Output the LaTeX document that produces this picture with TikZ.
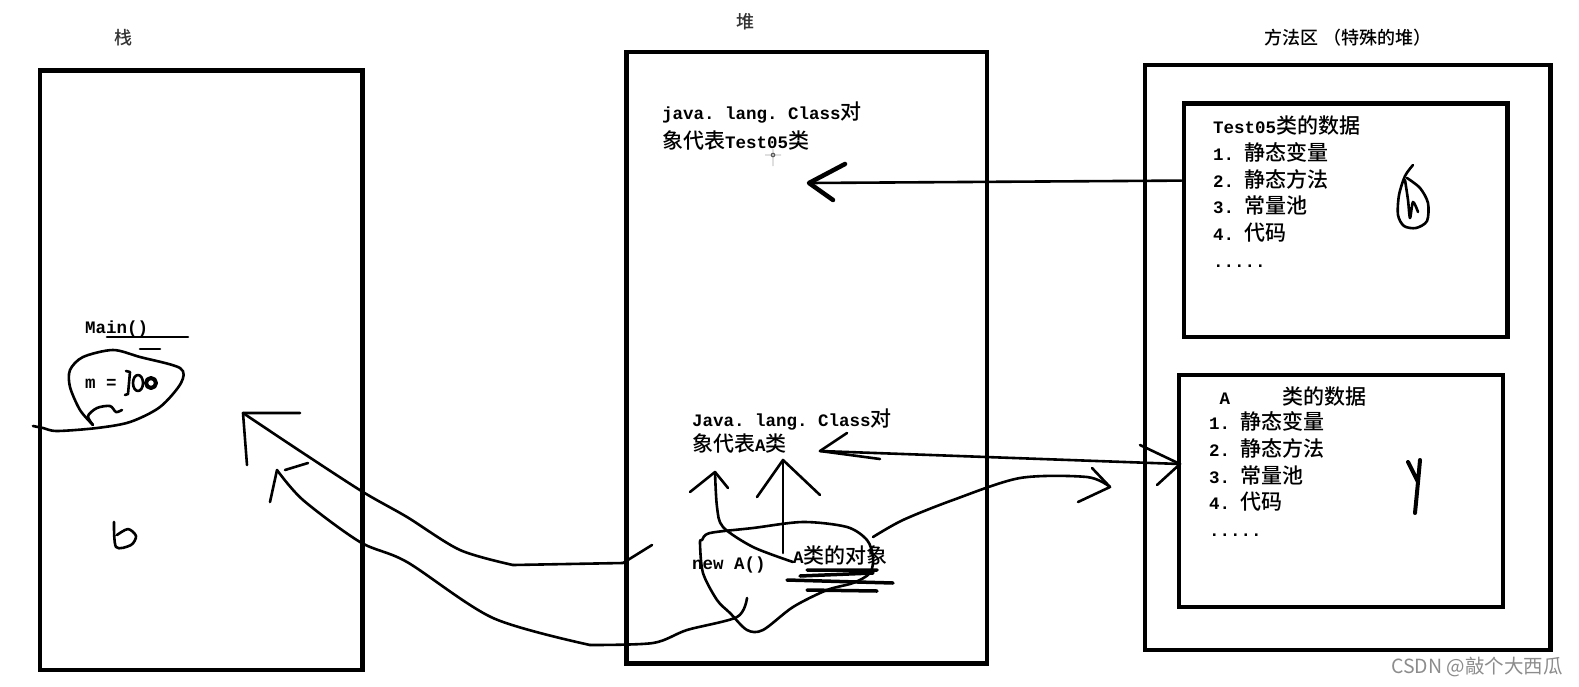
\documentclass[tikz,border=0pt]{standalone}
\usepackage{fontspec}
\setmainfont{Liberation Mono}
\newfontfamily\cjk{Noto Sans CJK SC}[Scale=1.2,UprightFont=* Medium]
\newfontfamily\wmfont{Noto Sans CJK SC}
\newcommand\zh[1]{{\cjk\mdseries #1}}
\newcommand\moredots{.....}
\frenchspacing
\tikzset{
  box/.style={draw,line width=4.6pt,inner sep=0pt,anchor=north west},
  pen/.style={line width=2.6pt,line cap=round,line join=round},
  txt/.style={anchor=west,inner sep=0pt,text height=16pt,text depth=3pt,font=\fontsize{17.5}{21}\selectfont\bfseries},
  lbl/.style={inner sep=0pt,text=black!80,font=\fontsize{15}{18}\selectfont},
}

\begin{document}
\begin{tikzpicture}[x=1pt,y=-1pt]
\useasboundingbox (0,0) rectangle (1579,686);
\node[box,minimum width=322.5pt,minimum height=599.5pt] (stack) at (37.5,68) {};
\node[box,minimum width=360.5pt,minimum height=611.5pt] (heap) at (624,49.5) {};
\node[box,minimum width=405.5pt,minimum height=585pt] (area) at (1142.5,62.5) {};
\node[box,minimum width=323.5pt,minimum height=233.5pt] (box1) at (1181.5,101) {};
\node[box,minimum width=324pt,minimum height=232pt] (box2) at (1176.5,372.5) {};
\node[lbl] (stackname) at (123,38) {\zh{栈}};
\node[lbl] (heapname) at (745,22) {\zh{堆}};
\node[lbl,text=black] (areaname) at (1348,38) {\zh{方法区 （特殊的堆）}};

\node[txt] (clsT1) at (662,113) {java. lang. Class\zh{对}};
\node[txt] (clsT2) at (662,142) {\zh{象代表}Test05\zh{类}};
\node[txt] (clsA1) at (692,420) {Java. lang. Class\zh{对}};
\node[txt] (clsA2) at (692,445) {\zh{象代表}A\zh{类}};
\node[txt] (newA) at (692,563) {new A()};
\node[txt] (objA) at (793,557) {A\zh{类的对象}};
\node[txt] (main) at (85,327) {Main()};
\node[txt] (mvar) at (85,382) {m =};

\foreach \s [count=\i] in {Test05\zh{类的数据},1. \zh{静态变量},2. \zh{静态方法},3. \zh{常量池},4. \zh{代码},\moredots}
  \node[txt] (t\i) at (1213,{127+26.8*(\i-1)}) {\s};
\node[txt] (a0) at (1209,398) {\ A\hspace{52pt}\zh{类的数据}};
\foreach \s [count=\i] in {1. \zh{静态变量},2. \zh{静态方法},3. \zh{常量池},4. \zh{代码},\moredots}
  \node[txt] (a\i) at (1209,{423+26.8*(\i-1)}) {\s};

\node[inner sep=0pt,text=black!45,font=\wmfont\fontsize{19.5}{20}\selectfont] (mark) at (1477,667) {CSDN @敲个大西瓜};

% method area -> heap
\coordinate (tipT) at (809,183);
\draw[pen] (box1.west |- t3) -- (tipT);
\draw[pen,line width=4.5pt] (845,164) -- (tipT) -- (833,200);
\coordinate (tipA) at (820,451);
\coordinate (tipB) at (1180,464);
\draw[pen] (tipA) -- (tipB);
\draw[pen] (847,433) -- (tipA) -- (880,459);
\draw[pen] (1140,445) -- (tipB) -- (1157,485);

% object in heap
\draw[pen] plot[smooth cycle] coordinates {(702,540) (710,533) (753,528) (803,522) (847,527) (867,540) (873,557) (870,573) (853,583) (827,590) (793,607) (763,630) (747,630) (730,613) (717,600) (703,573) (700,543)};
\draw[pen,line width=3.5pt] (807,570) -- (877,570) (787,580) -- (893,583) (800,576) -- (873,573) (807,590) -- (877,591);
\coordinate (up1) at (783,460);
\draw[pen] (783,553) -- (up1);
\draw[pen] (757,497) -- (up1) -- (820,495);
\coordinate (up2) at (715,472);
\draw[pen] plot[smooth] coordinates {(793,562) (753,547) (723,527) (717,507) (up2)};
\draw[pen] (690,492) -- (up2) -- (728,488);
\coordinate (tipM) at (1110,487);
\draw[pen] plot[smooth] coordinates {(873,537) (903,520) (953,500) (1020,478) (1087,477) (tipM)};
\draw[pen] (1092,468) -- (tipM) -- (1078,502);

% heap -> stack
\coordinate (tipS1) at (243,413);
\draw[pen] (652,545) -- (623,563) -- (513,565);
\draw[pen] plot[smooth] coordinates {(513,565) (460,550) (407,517) (363,492) (303,453) (tipS1)};
\draw[pen] (300,413) -- (tipS1) -- (247,465);
\coordinate (tipS2) at (277,470);
\draw[pen] plot[smooth] coordinates {(747,598) (737,617) (687,630) (653,643) (590,645)};
\draw[pen] plot[smooth] coordinates {(590,645) (493,618) (407,562) (360,542) (303,500) (tipS2)};
\draw[pen] (tipS2) -- (270,502) (285,470) -- (308,463);

% stack frame
\draw[pen] (107,337) -- (188,337) (140,349) -- (160,349);
\draw[pen] plot[smooth] coordinates {(93,425) (80,410) (70,387) (70,370) (83,357) (113,350) (140,357) (180,368) (181,383) (160,407) (130,422) (97,428) (57,431) (43,428) (33,426)};
\draw[pen] plot[smooth] coordinates {(93,425) (88,416) (97,408) (110,406) (116,412) (122,410)};
\draw[pen] (126,371) -- (130,372) -- (128,394) -- (125,395);
\draw[pen] (138,383) ellipse (5 and 8);
\draw[pen,line width=4pt] (151,383) ellipse (5 and 5);
\draw[pen] plot[smooth] coordinates {(114,522) (116,547) (131,545) (136,536) (128,529) (117,535)};

% scribbles
\draw[thin] (765,155) -- (781,155) (773,149) -- (773,166) (773,155) circle (2);
\draw[pen] plot[smooth] coordinates {(1413,165) (1405,176) (1399,195) (1398,215) (1404,226) (1416,228) (1427,221) (1428,203) (1420,188) (1407,178)};
\draw[pen] plot[smooth] coordinates {(1405,180) (1408,200) (1410,218) (1413,202) (1418,212)};
\draw[pen,line width=4pt] (1408,462) -- (1418,482) -- (1420,460) (1418,482) -- (1415,513);
\end{tikzpicture}
\end{document}
